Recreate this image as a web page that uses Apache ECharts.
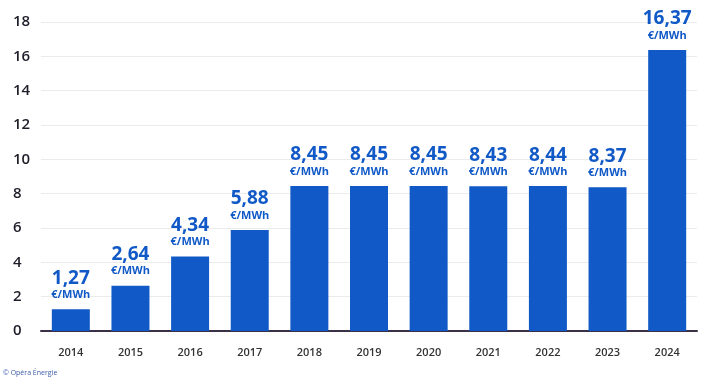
<!DOCTYPE html>
<html lang="fr">
<head>
    <meta charset="UTF-8">
    <title>prix_energie</title>
    <style>
        html, body { margin: 0; padding: 0; background: #fff; }
        #main { width: 710px; height: 378px; }
    </style>
</head>
<body>
    <div id="main"></div>
</body>
<script src="https://cdn.jsdelivr.net/npm/echarts@6/dist/echarts.min.js"></script>
<script>
    var years = ['2014', '2015', '2016', '2017', '2018', '2019', '2020', '2021', '2022', '2023', '2024']
    var values = [1.27, 2.64, 4.34, 5.88, 8.45, 8.45, 8.45, 8.43, 8.44, 8.37, 16.37]
    var yTicks = [0, 2, 4, 6, 8, 10, 12, 14, 16, 18]

    var blue = '#1059c6'
    var main = echarts.init(document.getElementById('main'))
    var option = {
        animation: false,
        textStyle: { fontFamily: 'Open Sans' },
        grid: { left: 41, right: 13, top: 22, bottom: 47 },
        xAxis: {
            type: 'category',
            data: years,
            axisTick: { show: false },
            axisLine: { lineStyle: { color: '#3a3148', width: 2 } },
            axisLabel: { color: '#333', fontSize: 11, margin: 16, fontWeight: 600 }
        },
        yAxis: {
            type: 'value',
            min: yTicks[0],
            max: yTicks[yTicks.length - 1],
            interval: 2,
            axisLabel: { color: '#1e1e2a', fontSize: 15, fontWeight: 600, align: 'left', margin: 28 },
            splitLine: { lineStyle: { color: '#ebebeb' } }
        },
        series: [{
            type: 'bar',
            data: values,
            barWidth: 38,
            itemStyle: { color: blue },
            label: {
                show: true,
                position: 'top',
                distance: 8,
                formatter: function (p) {
                    return '{v|' + p.value.toFixed(2).replace('.', ',') + '}\n{u|€/MWh}'
                },
                rich: {
                    v: { color: blue, fontSize: 19, fontWeight: 'bold', lineHeight: 20, fontFamily: 'Open Sans' },
                    u: { color: blue, fontSize: 11, fontWeight: 'bold', lineHeight: 13, fontFamily: 'Open Sans' }
                }
            }
        }],
        graphic: [{
            type: 'text',
            left: 3,
            top: 369,
            style: { text: '© Opéra Énergie', fill: '#3a5aa8', font: '7px Open Sans' }
        }]
    }
    main.setOption(option)
</script>
</html>
